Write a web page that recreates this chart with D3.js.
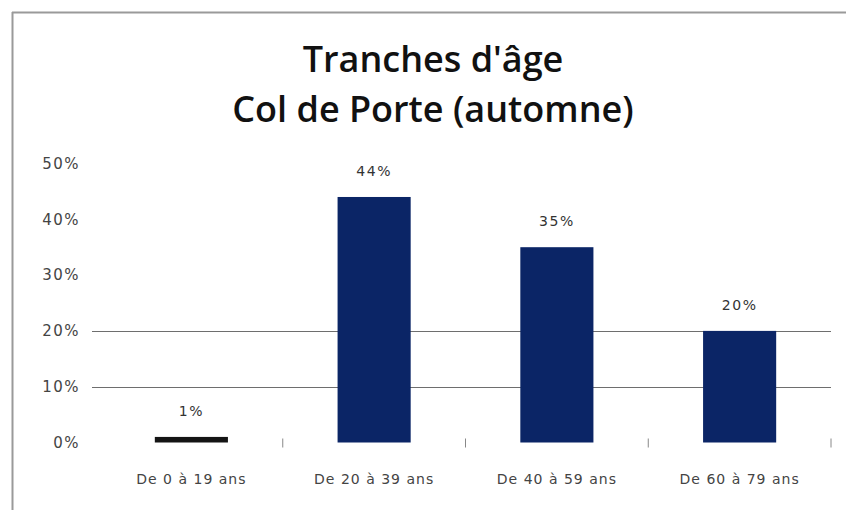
<!DOCTYPE html>
<html>
<head>
<meta charset="utf-8">
<script src="https://cdn.jsdelivr.net/npm/d3@7"></script>
<style>
  body { margin: 0; background: #fff; }
  svg { display: block; }
</style>
</head>
<body>
<div id="chart"></div>
<script>
"use strict";

// data
const categories = ["De 0 à 19 ans", "De 20 à 39 ans", "De 40 à 59 ans", "De 60 à 79 ans"];
const values = [1, 44, 35, 20];
const yTicks = [0, 10, 20, 30, 40, 50];
const gridTicks = [10, 20];
const titleLines = ["Tranches d'âge", "Col de Porte (automne)"];

const W = 846, H = 510;
const svg = d3.select("#chart").append("svg")
  .attr("width", W).attr("height", H);

// chart frame (cut off on right and bottom)
svg.append("line").attr("x1", 12).attr("x2", W).attr("y1", 12.5).attr("y2", 12.5)
  .attr("stroke", "#9a9a9a").attr("stroke-width", 2);
svg.append("line").attr("x1", 12.5).attr("x2", 12.5).attr("y1", 12).attr("y2", H)
  .attr("stroke", "#9a9a9a").attr("stroke-width", 2);

// title
const title = svg.append("text")
  .attr("text-anchor", "middle")
  .style("font-family", "'Open Sans', sans-serif")
  .style("font-weight", 600)
  .style("font-size", "36px")
  .attr("fill", "#111");
title.selectAll("tspan").data(titleLines).enter().append("tspan")
  .attr("x", 433)
  .attr("y", (d, i) => 72 + i * 50)
  .text(d => d);

const plotLeft = 100, plotRight = 831, plotTop = 163.5, plotBottom = 442.5;

const x = d3.scaleBand().domain(categories).range([plotLeft, plotRight]).paddingInner(0.6).paddingOuter(0.3);
const y = d3.scaleLinear().domain([0, 50]).range([plotBottom, plotTop]);

// gridlines
svg.append("g").selectAll("line").data(gridTicks).enter().append("line")
  .attr("x1", 92).attr("x2", 831)
  .attr("y1", d => Math.round(y(d)) + 0.5).attr("y2", d => Math.round(y(d)) + 0.5)
  .attr("stroke", "#6e6e6e").attr("stroke-width", 1);

// y axis labels
const yAxis = svg.append("g")
  .attr("transform", `translate(${plotLeft},0)`)
  .call(d3.axisLeft(y).tickValues(yTicks).tickFormat(d => d + "%").tickSize(0).tickPadding(20));
yAxis.select(".domain").remove();
yAxis.selectAll("text")
  .style("font-family", "'DejaVu Sans', sans-serif")
  .style("font-size", "15px")
  .style("letter-spacing", "1.5px")
  .attr("fill", "#444");

// category ticks between bars
const step = x.step();
const bounds = categories.map(c => x(c) + x.bandwidth() / 2 + step / 2);
svg.append("g").selectAll("line").data(bounds).enter().append("line")
  .attr("x1", d => d).attr("x2", d => d)
  .attr("y1", plotBottom - 4).attr("y2", plotBottom + 5)
  .attr("stroke", "#888").attr("stroke-width", 1);

// bars
svg.append("g").selectAll("rect").data(values).enter().append("rect")
  .attr("x", (d, i) => x(categories[i]))
  .attr("y", d => y(d))
  .attr("width", x.bandwidth())
  .attr("height", d => plotBottom - y(d))
  .attr("fill", (d, i) => i === 0 ? "#141414" : "#0b2566");

// value labels
svg.append("g").selectAll("text").data(values).enter().append("text")
  .attr("x", (d, i) => x(categories[i]) + x.bandwidth() / 2)
  .attr("y", d => y(d) - 21)
  .attr("text-anchor", "middle")
  .style("font-family", "'DejaVu Sans', sans-serif")
  .style("font-size", "14px")
  .style("letter-spacing", "1.5px")
  .attr("fill", "#333")
  .text(d => d + "%");

// category labels
svg.append("g").selectAll("text").data(categories).enter().append("text")
  .attr("x", d => x(d) + x.bandwidth() / 2)
  .attr("y", 484)
  .attr("text-anchor", "middle")
  .style("font-family", "'DejaVu Sans', sans-serif")
  .style("font-size", "14px")
  .style("letter-spacing", "1px")
  .attr("fill", "#444")
  .text(d => d);
</script>
</body>
</html>
